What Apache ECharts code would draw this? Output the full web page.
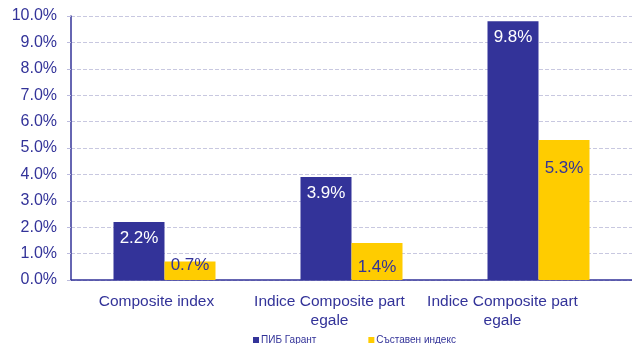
<!DOCTYPE html>
<html><head><meta charset="utf-8">
<script src="https://cdn.jsdelivr.net/npm/echarts@6/dist/echarts.min.js"></script>
<style>html,body{margin:0;padding:0;background:#fff}#c{width:632px;height:344px}</style>
</head><body><div id="c"></div>
<script>
const categories = ['Composite index', 'Indice Composite part\negale', 'Indice Composite part\negale'];
const seriesNames = ['ПИБ Гарант', 'Съставен индекс'];
const pibValues = [2.2, 3.9, 9.8];
const compositeValues = [0.7, 1.4, 5.3];
const chart = echarts.init(document.getElementById('c'));
const font = 'Liberation Sans, Arial, sans-serif';
const pct = p => p.value.toFixed(1) + '%';
// per-point label shifts of the yellow series (styling only)
const yellowLabelDist = [-5, 16, 20];
chart.setOption({
  animation: false,
  grid: [
    {left: 71, right: -7, top: 16, bottom: 64},
    {left: 70, width: 519, top: 16, bottom: 64}
  ],
  legend: {
    bottom: -6, left: 248, itemWidth: 6, itemHeight: 6, itemGap: 52, icon: 'rect',
    textStyle: {fontSize: 10, color: '#333399', fontFamily: font, padding: [0,0,0,-3]},
    data: seriesNames
  },
  xAxis: [{
    type: 'category', data: categories, gridIndex: 0,
    axisLine: {lineStyle: {color: '#333399', width: 1.5}},
    axisTick: {show: false},
    axisLabel: {show: false}
  }, {
    type: 'category', data: categories, gridIndex: 1,
    axisLine: {show: false}, axisTick: {show: false},
    axisLabel: {fontSize: 15.5, color: '#333399', fontFamily: font, lineHeight: 19, margin: 12, interval: 0}
  }],
  yAxis: [{
    type: 'value', min: 0, max: 10, interval: 1, gridIndex: 0,
    axisLine: {show: true, lineStyle: {color: '#333399', width: 1.5}},
    axisTick: {show: true, length: 4, inside: false, lineStyle: {color: '#bbbbdd'}},
    axisLabel: {fontSize: 16, color: '#333399', fontFamily: font, margin: 14, formatter: v => v.toFixed(1) + '%'},
    splitLine: {lineStyle: {color: '#c8c8e0', type: 'dashed', width: 1}}
  }, {
    type: 'value', min: 0, max: 10, gridIndex: 1, show: false, splitLine: {show: false}
  }],
  series: [
    {name: seriesNames[0], type: 'bar', data: pibValues, barWidth: 51, barGap: '0%',
     itemStyle: {color: '#333399'},
     label: {show: true, position: 'insideTop', distance: 8, color: '#ffffff', fontSize: 17, fontFamily: font, formatter: pct}},
    {name: seriesNames[1], type: 'bar', barWidth: 51,
     data: compositeValues.map((v, i) => ({value: v, label: {distance: yellowLabelDist[i]}})),
     itemStyle: {color: '#ffcc00'},
     label: {show: true, position: 'insideTop', color: '#333399', fontSize: 17, fontFamily: font, formatter: pct}}
  ]
});
</script></body></html>
